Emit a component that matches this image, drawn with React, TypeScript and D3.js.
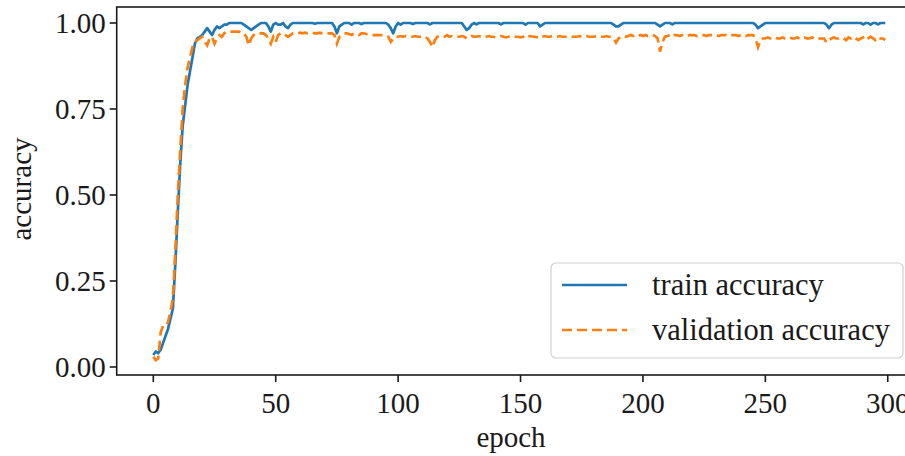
import React from "react";
import * as d3 from "d3";

// per-epoch accuracy
const trainAcc = [
  0.035, 0.045, 0.04, 0.05, 0.07, 0.09, 0.11, 0.14, 0.17, 0.3,
  0.45, 0.59, 0.7, 0.76, 0.82, 0.86, 0.9, 0.94, 0.955, 0.96,
  0.965, 0.975, 0.985, 0.975, 0.965, 0.98, 0.99, 0.985, 0.99, 0.995,
  0.995, 1, 1, 1, 1, 1, 1, 0.995, 0.99, 0.985,
  0.98, 0.985, 0.99, 0.995, 1, 1, 1, 0.99, 0.975, 0.995,
  1, 0.995, 0.995, 1, 0.99, 0.985, 0.995, 1, 1, 1,
  1, 1, 1, 1, 1, 1, 0.998, 1, 1, 1,
  1, 1, 1, 1, 0.99, 0.97, 0.99, 0.995, 1, 1,
  1, 0.995, 1, 1, 1, 0.997, 1, 1, 1, 1,
  1, 1, 1, 1, 1, 1, 0.995, 0.985, 0.97, 0.99,
  1, 0.995, 1, 1, 1, 1, 0.997, 1, 1, 1,
  1, 1, 1, 0.996, 1, 1, 1, 1, 1, 1,
  1, 1, 1, 1, 1, 1, 1, 0.99, 0.98, 0.985,
  0.995, 1, 0.996, 1, 1, 1, 1, 1, 1, 1,
  1, 1, 0.996, 1, 1, 1, 1, 1, 1, 1,
  1, 1, 0.995, 1, 1, 1, 1, 1, 0.99, 0.995,
  1, 1, 1, 1, 1, 1, 1, 1, 1, 1,
  1, 1, 1, 1, 1, 1, 1, 1, 1, 1,
  1, 1, 1, 1, 1, 1, 1, 1, 0.995, 0.99,
  0.99, 0.995, 1, 1, 1, 1, 1, 1, 1, 1,
  1, 1, 1, 1, 1, 1, 0.995, 0.99, 0.995, 1,
  1, 1, 0.996, 1, 1, 1, 1, 1, 1, 1,
  1, 1, 1, 1, 1, 1, 1, 1, 1, 1,
  1, 1, 1, 1, 1, 1, 1, 1, 1, 1,
  1, 1, 1, 1, 1, 1, 0.995, 0.985, 0.99, 0.995,
  1, 1, 1, 1, 1, 1, 1, 1, 1, 1,
  1, 1, 1, 1, 1, 1, 1, 1, 1, 1,
  1, 1, 1, 1, 1, 0.995, 0.985, 0.995, 1, 1,
  1, 1, 1, 1, 1, 1, 1, 1, 1, 1,
  0.996, 1, 1, 0.995, 1, 1, 0.996, 1, 1, 1,
];

const valAcc = [
  0.03, 0.02, 0.025, 0.1, 0.12, 0.12, 0.13, 0.16, 0.2, 0.34,
  0.5, 0.63, 0.75, 0.82, 0.87, 0.9, 0.93, 0.945, 0.95, 0.955,
  0.96, 0.945, 0.935, 0.955, 0.96, 0.94, 0.955, 0.965, 0.96, 0.97,
  0.975, 0.975, 0.975, 0.975, 0.975, 0.975, 0.97, 0.97, 0.96, 0.935,
  0.955, 0.965, 0.97, 0.97, 0.97, 0.97, 0.965, 0.955, 0.94, 0.96,
  0.945, 0.965, 0.97, 0.97, 0.965, 0.96, 0.965, 0.97, 0.97, 0.97,
  0.972, 0.97, 0.972, 0.97, 0.97, 0.972, 0.97, 0.97, 0.972, 0.97,
  0.97, 0.97, 0.97, 0.97, 0.965, 0.94, 0.96, 0.965, 0.97, 0.97,
  0.968, 0.965, 0.97, 0.968, 0.965, 0.97, 0.97, 0.968, 0.968, 0.965,
  0.965, 0.965, 0.965, 0.965, 0.965, 0.962, 0.96, 0.945, 0.955, 0.96,
  0.96, 0.962, 0.96, 0.962, 0.96, 0.96, 0.96, 0.962, 0.96, 0.96,
  0.96, 0.96, 0.955, 0.945, 0.93, 0.95, 0.96, 0.962, 0.96, 0.96,
  0.965, 0.96, 0.962, 0.96, 0.96, 0.96, 0.962, 0.96, 0.955, 0.958,
  0.962, 0.96, 0.96, 0.962, 0.96, 0.958, 0.96, 0.962, 0.96, 0.96,
  0.958, 0.96, 0.962, 0.96, 0.958, 0.96, 0.96, 0.962, 0.96, 0.96,
  0.958, 0.96, 0.955, 0.96, 0.962, 0.96, 0.96, 0.958, 0.955, 0.96,
  0.962, 0.96, 0.96, 0.962, 0.96, 0.96, 0.962, 0.96, 0.96, 0.96,
  0.962, 0.96, 0.96, 0.96, 0.962, 0.96, 0.96, 0.962, 0.96, 0.96,
  0.96, 0.962, 0.96, 0.96, 0.96, 0.962, 0.96, 0.96, 0.955, 0.943,
  0.955, 0.96, 0.962, 0.96, 0.962, 0.965, 0.962, 0.965, 0.962, 0.965,
  0.962, 0.965, 0.962, 0.962, 0.965, 0.962, 0.955, 0.917, 0.945, 0.96,
  0.962, 0.965, 0.96, 0.965, 0.965, 0.962, 0.965, 0.965, 0.962, 0.965,
  0.965, 0.965, 0.962, 0.965, 0.965, 0.965, 0.962, 0.965, 0.965, 0.965,
  0.965, 0.962, 0.965, 0.965, 0.965, 0.962, 0.965, 0.965, 0.965, 0.962,
  0.965, 0.965, 0.962, 0.965, 0.965, 0.965, 0.955, 0.93, 0.95, 0.955,
  0.955, 0.958, 0.955, 0.955, 0.958, 0.955, 0.955, 0.958, 0.955, 0.955,
  0.958, 0.955, 0.955, 0.958, 0.955, 0.955, 0.958, 0.955, 0.955, 0.958,
  0.955, 0.958, 0.955, 0.955, 0.955, 0.943, 0.95, 0.955, 0.958, 0.955,
  0.955, 0.958, 0.955, 0.95, 0.958, 0.955, 0.96, 0.955, 0.95, 0.955,
  0.958, 0.95, 0.955, 0.96, 0.955, 0.95, 0.958, 0.955, 0.955, 0.95,
];

const xTicks = [0, 50, 100, 150, 200, 250, 300];
const yTicks = [0, 0.25, 0.5, 0.75, 1.0];
const seriesNames = ["train accuracy", "validation accuracy"];

const W = 905;
const H = 456;
const FONT = "'Liberation Serif', 'Times New Roman', serif";
const INK = "#1a1a1a";

export default function App() {
  const x = d3.scaleLinear().domain([-14.95, 313.95]).range([116.7, 921.9]);
  const y = d3.scaleLinear().domain([-0.0233, 1.0465]).range([375, 7]);

  const line = d3
    .line<number>()
    .x((_, i) => x(i))
    .y((d) => y(d));

  const [x0, x1] = x.range();
  const [yb, yt] = y.range();

  return (
    <svg
      width={W}
      height={H}
      style={{ position: "absolute", left: 0, top: 0, background: "#fff" }}
      fontFamily={FONT}
    >
      <path d={line(trainAcc) ?? ""} fill="none" stroke="#1f77b4" strokeWidth={2.7} strokeLinejoin="round" />
      <path
        d={line(valAcc) ?? ""}
        fill="none"
        stroke="#ff7f0e"
        strokeWidth={2.7}
        strokeDasharray="10,5"
      />

      {/* frame */}
      <rect x={x0} y={yt} width={x1 - x0} height={yb - yt} fill="none" stroke={INK} strokeWidth={1.6} />

      {/* y axis */}
      {yTicks.map((t) => (
        <g key={t} transform={`translate(${x0},${y(t)})`}>
          <line x1={-7} x2={0} stroke={INK} strokeWidth={1.6} />
          <text x={-11} dy="0.34em" textAnchor="end" fontSize={29} fill={INK}>
            {t.toFixed(2)}
          </text>
        </g>
      ))}

      {/* x axis */}
      {xTicks.map((t) => (
        <g key={t} transform={`translate(${x(t)},${yb})`}>
          <line y2={7} stroke={INK} strokeWidth={1.6} />
          <text y={38} textAnchor="middle" fontSize={29} fill={INK}>
            {t}
          </text>
        </g>
      ))}

      <text x={511} y={447} textAnchor="middle" fontSize={29} fill={INK}>
        epoch
      </text>
      <text transform="translate(31,189) rotate(-90)" textAnchor="middle" fontSize={29} fill={INK}>
        accuracy
      </text>

      {/* legend */}
      <g>
        <rect x={551} y={263} width={352} height={95} rx={5} fill="#fff" fillOpacity={0.85} stroke="#d0d0d0" strokeWidth={1.2} />
        {seriesNames.map((name, i) => (
          <g key={name} transform={`translate(562,${285 + i * 45})`}>
            <line
              x1={0}
              x2={65}
              stroke={i === 0 ? "#1f77b4" : "#ff7f0e"}
              strokeWidth={2.7}
              strokeDasharray={i === 0 ? undefined : "10,5"}
            />
            <text x={90} dy="0.33em" fontSize={30.5} fill={INK}>
              {name}
            </text>
          </g>
        ))}
      </g>
    </svg>
  );
}
